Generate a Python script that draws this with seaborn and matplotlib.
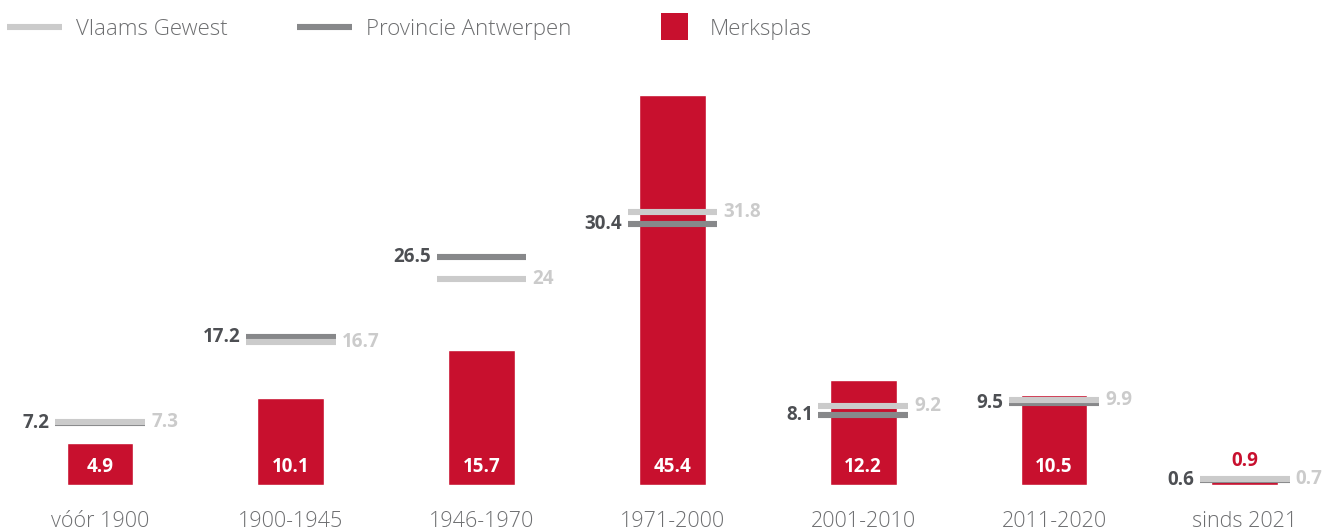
import matplotlib
matplotlib.use("Agg")
import matplotlib.pyplot as plt
from matplotlib.lines import Line2D
from matplotlib.patches import Patch, Rectangle
from matplotlib.legend_handler import HandlerPatch
import seaborn as sns
import pandas as pd

# Share of dwellings by construction period (%)
periods = ["vóór 1900", "1900-1945", "1946-1970", "1971-2000", "2001-2010", "2011-2020", "sinds 2021"]
merksplas = [4.9, 10.1, 15.7, 45.4, 12.2, 10.5, 0.9]
vlaams_gewest = [7.3, 16.7, 24, 31.8, 9.2, 9.9, 0.7]
provincie_antwerpen = [7.2, 17.2, 26.5, 30.4, 8.1, 9.5, 0.6]

RED = "#C8102E"
LIGHT = "#CBCBCB"
DARK = "#87888A"
DARK_TXT = "#4D4F53"
TICK_TXT = "#6D6E70"

sns.set_theme(style="white")
plt.rcParams["font.family"] = ["Open Sans", "DejaVu Sans"]

fig = plt.figure(figsize=(13.29, 5.32), dpi=100)
ax = fig.add_axes([0.00346, 0.0883, 0.9906, 0.807])

df = pd.DataFrame({"periode": periods, "Merksplas": merksplas})
sns.barplot(data=df, x="periode", y="Merksplas", color=RED, width=0.35,
            saturation=1, ax=ax)

half = 0.235
xs = range(len(periods))
for i, (pv, vg) in enumerate(zip(provincie_antwerpen, vlaams_gewest)):
    ax.hlines(pv, i - half, i + half, color=DARK, lw=4.4, capstyle="butt", zorder=3)
    ax.hlines(vg, i - half, i + half, color=LIGHT, lw=4.4, capstyle="butt", zorder=4)
    ax.annotate(f"{pv:g}", xy=(i - half, pv), xytext=(-4, 0), textcoords="offset points",
                ha="right", va="center", fontsize=13.5, fontweight="bold", color=DARK_TXT)
    ax.annotate(f"{vg:g}", xy=(i + half, vg), xytext=(4.5, 0), textcoords="offset points",
                ha="left", va="center", fontsize=13.5, fontweight="bold", color=LIGHT)

for i, m in enumerate(merksplas):
    if m >= 3:
        ax.annotate(f"{m:g}", xy=(i, 0), xytext=(0, 13), textcoords="offset points",
                    ha="center", va="center", fontsize=13.5, fontweight="bold", color="white",
                    zorder=5)
    else:
        ax.annotate(f"{m:g}", xy=(i, m), xytext=(0, 12), textcoords="offset points",
                    ha="center", va="center", fontsize=13.5, fontweight="bold", color=RED,
                    zorder=5)

ax.set_xlim(-0.5, 6.4)
ax.set_ylim(0, 50)
ax.set_xlabel("")
ax.set_ylabel("")
ax.set_yticks([])
ax.set_xticks(list(xs))
ax.set_xticklabels(periods, fontsize=15.5, fontweight="light", color=TICK_TXT)
ax.tick_params(axis="x", length=0, pad=19)
sns.despine(ax=ax, left=True, bottom=True)


def square_patch(legend, orig_handle, xdescent, ydescent, width, height, fontsize):
    # square swatch, right-aligned in the handle box so it sits next to its label
    s = 19.5
    return Rectangle((-xdescent + width - s - 6, -ydescent + height / 2 - s / 2), s, s)


handles = [
    Line2D([], [], color=LIGHT, lw=4.4, solid_capstyle="butt"),
    Line2D([], [], color=DARK, lw=4.4, solid_capstyle="butt"),
    Patch(facecolor=RED, edgecolor="none"),
]
leg = fig.legend(handles, ["Vlaams Gewest", "Provincie Antwerpen", "Merksplas"],
                 loc="upper left", bbox_to_anchor=(0.0, 0.9774), ncol=3, frameon=False,
                 handlelength=2.5, handletextpad=0.63, columnspacing=3.1,
                 borderaxespad=0.0, borderpad=0.3,
                 handler_map={Patch: HandlerPatch(patch_func=square_patch)},
                 prop={"size": 16, "weight": "light"})
for t in leg.get_texts():
    t.set_color(TICK_TXT)

fig.savefig("out.png", dpi=100)
